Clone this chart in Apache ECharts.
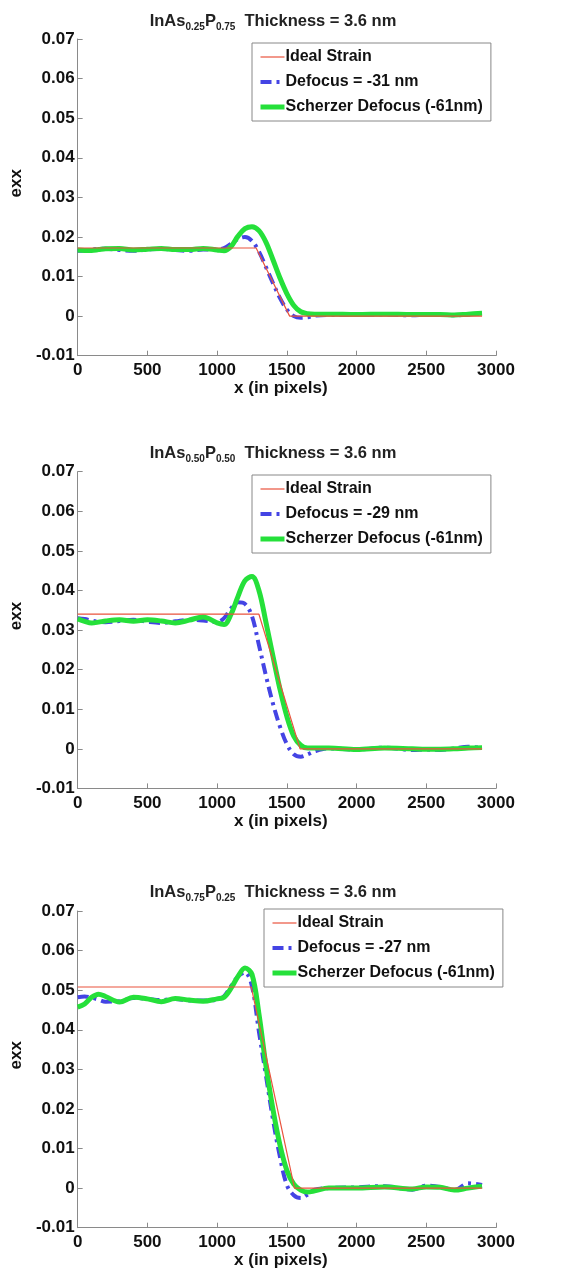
<!DOCTYPE html>
<html><head><meta charset="utf-8">
<script src="https://cdn.jsdelivr.net/npm/echarts@6/dist/echarts.min.js"></script>
<style>html,body{margin:0;padding:0;background:#fff}#c{width:586px;height:1272px}</style>
</head><body><div id="c"></div>
<script>
// ---- data ----
const X = [0,50,100,150,200,300,400,500,600,700,800,900,1000,1050,1100,1150,1200,1250,1300,1350,1400,1450,1500,1550,1600,1650,1700,1800,2000,2200,2400,2500,2600,2700,2800,2900];

const titles = ['0.25|0.75','0.50|0.50','0.75|0.25'];
const defocusNames = ['Defocus = -31 nm','Defocus = -29 nm','Defocus = -27 nm'];
const idealName = 'Ideal Strain';
const scherzerName = 'Scherzer Defocus (-61nm)';

const ideal1X = [0,1280,1520,2900];
const ideal1Y = [0.0172,0.0172,0,0];
const def1 = [0.0165,0.0166,0.0168,0.0170,0.0170,0.0167,0.0165,0.0168,0.0170,0.0167,0.0165,0.0168,0.0168,0.0172,0.0183,0.0195,0.0200,0.0190,0.0163,0.0124,0.0084,0.0046,0.0017,0.0000,-0.0004,-0.0003,0.0001,0.0003,0.0003,0.0004,0.0002,0.0003,0.0003,0.0002,0.0004,0.0006];
const sch1 = [0.0167,0.0166,0.0166,0.0168,0.0170,0.0171,0.0167,0.0169,0.0171,0.0168,0.0168,0.0171,0.0167,0.0165,0.0176,0.0202,0.0221,0.0226,0.0216,0.0187,0.0143,0.0097,0.0057,0.0027,0.0011,0.0006,0.0005,0.0005,0.0004,0.0005,0.0004,0.0004,0.0004,0.0003,0.0005,0.0007];

const ideal2X = [0,1300,1595,2900];
const ideal2Y = [0.0340,0.0340,0,0];
const def2 = [0.0330,0.0328,0.0324,0.0321,0.0320,0.0323,0.0326,0.0321,0.0318,0.0322,0.0326,0.0324,0.0320,0.0330,0.0355,0.0370,0.0366,0.0335,0.0262,0.0185,0.0115,0.0057,0.0012,-0.0014,-0.0020,-0.0014,-0.0006,0.0001,-0.0002,0.0003,-0.0003,-0.0002,-0.0003,0.0001,0.0005,0.0002];
const sch2 = [0.0328,0.0322,0.0318,0.0320,0.0323,0.0326,0.0322,0.0326,0.0323,0.0318,0.0325,0.0333,0.0318,0.0314,0.0340,0.0385,0.0425,0.0435,0.0400,0.0320,0.0235,0.0152,0.0082,0.0032,0.0009,0.0002,0.0002,0.0002,-0.0002,0.0002,0.0000,-0.0001,-0.0001,0.0000,0.0002,0.0003];

const ideal3X = [0,1245,1555,2900];
const ideal3Y = [0.0508,0.0508,0,0];
const def3 = [0.0482,0.0484,0.0481,0.0476,0.0471,0.0472,0.0480,0.0478,0.0475,0.0478,0.0474,0.0474,0.0476,0.0485,0.0510,0.0535,0.0545,0.0510,0.0395,0.0285,0.0175,0.0080,0.0008,-0.0018,-0.0025,-0.0016,-0.0004,0.0000,0.0002,0.0005,-0.0004,0.0006,0.0003,-0.0005,0.0012,0.0008];
const sch3 = [0.0457,0.0465,0.0482,0.0490,0.0484,0.0470,0.0482,0.0478,0.0471,0.0479,0.0475,0.0472,0.0478,0.0482,0.0505,0.0535,0.0556,0.0540,0.0440,0.0310,0.0200,0.0110,0.0045,0.0010,-0.0005,-0.0010,-0.0007,0.0000,0.0000,0.0003,-0.0002,0.0003,0.0002,-0.0005,0.0000,0.0005];

const xTicks = [0,500,1000,1500,2000,2500,3000];
const yTicks = [-0.01,0,0.01,0.02,0.03,0.04,0.05,0.06,0.07];

// ---- layout ----
const gridTops = [39, 471.7, 911];
const gridH = 316.7;
const gridLeft = 72.7, gridW = 423.3;
const titleTops = [6, 438, 877];
const legendPos = [[252,43],[252,475],[264,909]];

const idealX = [ideal1X, ideal2X, ideal3X];
const idealY = [ideal1Y, ideal2Y, ideal3Y];
const defs = [def1, def2, def3];
const schs = [sch1, sch2, sch3];

const zip = (xs, ys) => xs.map((x,i)=>[x, ys[i]]);
const FONT = 'Liberation Sans, Arial, Helvetica, sans-serif';
const RED = '#e9533d', BLUE = '#4444e4', GREEN = '#25e03a';
const redLine = {color: RED, width: 1.2};
const blueLine = {color: BLUE, width: 4, type: [11, 5, 3, 5], cap: 'butt'};
const greenLine = {color: GREEN, width: 5};

const option = {
  animation: false,
  backgroundColor: '#fff',
  title: [], grid: [], xAxis: [], yAxis: [], legend: [], series: []
};

for (let k = 0; k < 3; k++) {
  const [a, b] = titles[k].split('|');
  option.title.push({
    text: '{m|InAs}{s|' + a + '}{m|P}{s|' + b + '}{m|  Thickness = 3.6 nm}',
    left: 268, top: titleTops[k], textAlign: 'center',
    textStyle: {
      rich: {
        m: {fontFamily: FONT, fontWeight: 'bold', fontSize: 16.5, color: '#222', lineHeight: 21},
        s: {fontFamily: FONT, fontWeight: 'bold', fontSize: 10, color: '#222', lineHeight: 10, verticalAlign: 'bottom'}
      }
    }
  });
  option.grid.push({left: gridLeft, top: gridTops[k], width: gridW, height: gridH, containLabel: false});
  option.xAxis.push({
    type: 'value', gridIndex: k, min: 0, max: 3000, interval: 500,
    name: 'x (in pixels)', nameLocation: 'middle', nameGap: 24,
    nameTextStyle: {fontFamily: FONT, fontWeight: 'bold', fontSize: 17, color: '#111', padding: [0, 12, 0, 0]},
    axisLine: {show: true, onZero: false, lineStyle: {color: '#8a8a8a', width: 1}},
    axisTick: {show: true, inside: true, length: 5, lineStyle: {color: '#8a8a8a'}},
    axisLabel: {fontFamily: FONT, fontWeight: 'bold', fontSize: 17, color: '#111', margin: 6,
      formatter: v => xTicks.includes(v) ? String(v) : ''},
    splitLine: {show: false}
  });
  option.yAxis.push({
    type: 'value', gridIndex: k, min: -0.01, max: 0.07, interval: 0.01,
    name: 'exx', nameLocation: 'middle', nameGap: 42,
    nameTextStyle: {fontFamily: FONT, fontWeight: 'bold', fontSize: 17, color: '#111', padding: [0, 0, 0, 28]},
    axisLine: {show: true, onZero: false, lineStyle: {color: '#8a8a8a', width: 1}},
    axisTick: {show: true, inside: true, length: 5, lineStyle: {color: '#8a8a8a'}},
    axisLabel: {fontFamily: FONT, fontWeight: 'bold', fontSize: 17, color: '#111', margin: 3,
      formatter: v => { const r = Math.round(v*100)/100; return Math.abs(r) < 1e-9 ? '0' : r.toFixed(2); }},
    splitLine: {show: false}
  });
  const nI = idealName + '#' + k, nD = defocusNames[k] + '#' + k, nS = scherzerName + '#' + k;
  option.legend.push({
    data: [
      {name: nI, itemStyle: {opacity: 0}, lineStyle: redLine},
      {name: nD, itemStyle: {opacity: 0}, lineStyle: blueLine},
      {name: nS, itemStyle: {opacity: 0}, lineStyle: greenLine}
    ],
    orient: 'vertical', left: legendPos[k][0], top: legendPos[k][1],
    backgroundColor: '#fff', borderColor: '#888', borderWidth: 1, borderRadius: 0,
    padding: [6, 8, 6, 6], itemWidth: 24, itemHeight: 14, itemGap: 9,
    selectedMode: false,
    formatter: n => n.split('#')[0],
    textStyle: {fontFamily: FONT, fontWeight: 'bold', fontSize: 16, color: '#111', padding: [0,0,0,-4]}
  });
  option.series.push({
    name: nI, type: 'line', xAxisIndex: k, yAxisIndex: k, showSymbol: false, symbol: 'none',
    data: zip(idealX[k], idealY[k]), lineStyle: redLine, itemStyle: {color: RED}, z: 3
  });
  option.series.push({
    name: nD, type: 'line', xAxisIndex: k, yAxisIndex: k, showSymbol: false, symbol: 'none', smooth: 0.35,
    data: zip(X, defs[k]), lineStyle: blueLine, itemStyle: {color: BLUE}, z: 2
  });
  option.series.push({
    name: nS, type: 'line', xAxisIndex: k, yAxisIndex: k, showSymbol: false, symbol: 'none', smooth: 0.35,
    data: zip(X, schs[k]), lineStyle: greenLine, itemStyle: {color: GREEN}, z: 2
  });
}

const chart = echarts.init(document.getElementById('c'), null, {renderer: 'canvas'});
chart.setOption(option);
</script>
</body></html>
